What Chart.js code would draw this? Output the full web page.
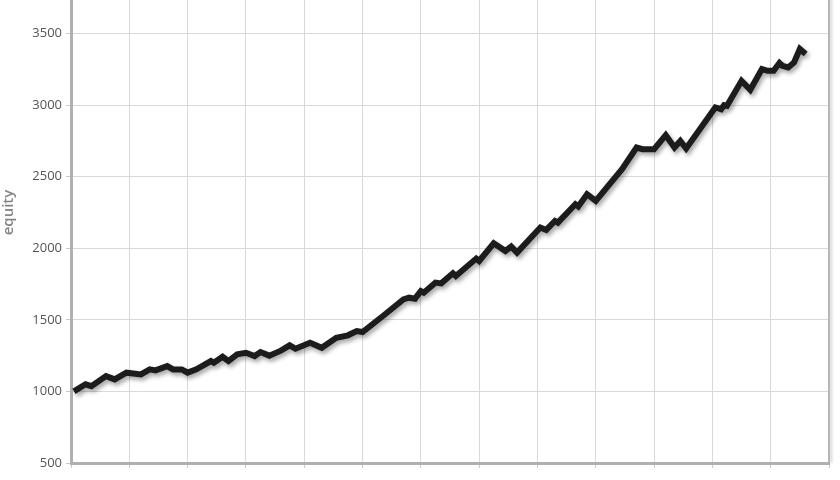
<!DOCTYPE html>
<html>
<head>
<meta charset="utf-8">
<script src="https://cdn.jsdelivr.net/npm/chart.js@4/dist/chart.umd.min.js"></script>
<style>
  html, body { margin: 0; padding: 0; background: #fff; overflow: hidden; }
  /* the top of the plot is cut off in the picture */
  #wrap { width: 840px; height: 518px; margin-top: -38px; }
</style>
</head>
<body>
<div id="wrap"><canvas id="equity-chart"></canvas></div>
<script>
// Equity curve (trade number, equity)
const trades = [1, 5, 7, 12, 15, 19, 24, 27, 29, 33, 35, 38, 40, 43, 48, 49, 52, 54, 57, 60,
  63, 65, 68, 72, 75, 77, 82, 86, 91, 95, 98, 100, 107, 114, 116, 118, 120, 121, 125, 127,
  131, 132, 139, 140, 145, 149, 151, 153, 161, 163, 166, 167, 173, 174, 177, 180, 189, 194, 196, 200,
  204, 207, 209, 211, 221, 223, 224, 225, 230, 233, 237, 239, 241, 243, 244, 246, 248, 250, 252];
const equity = [1000, 1050, 1037, 1107, 1084, 1131, 1119, 1154, 1147, 1177, 1154, 1154, 1131, 1154, 1212, 1200, 1242, 1212, 1259, 1270,
  1247, 1275, 1250, 1285, 1322, 1298, 1340, 1305, 1375, 1392, 1422, 1415, 1527, 1643, 1655, 1648, 1701, 1690, 1760, 1755,
  1825, 1806, 1928, 1911, 2035, 1981, 2012, 1970, 2145, 2128, 2191, 2179, 2308, 2292, 2378, 2331, 2552, 2704, 2692, 2692,
  2790, 2704, 2750, 2697, 2984, 2972, 3000, 2995, 3170, 3107, 3252, 3240, 3240, 3294, 3275, 3263, 3298, 3392, 3357];

const yTicks = [500, 1000, 1500, 2000, 2500, 3000, 3500, 4000];
const yLabel = 'equity';

const points = trades.map((t, i) => ({ x: t, y: equity[i] }));

// sombra de la linea
const lineShadow = {
    id: 'lineShadow',
    beforeDatasetDraw(chart) {
        const ctx = chart.ctx;
        ctx.save();
        ctx.shadowColor = 'rgba(0, 0, 0, 0.35)';
        ctx.shadowBlur = 4;
        ctx.shadowOffsetX = 2;
        ctx.shadowOffsetY = 3;
    },
    afterDatasetDraw(chart) {
        chart.ctx.restore();
    }
};

// borde derecho del area
const rightBorder = {
    id: 'rightBorder',
    afterDraw(chart) {
        const ctx = chart.ctx;
        const area = chart.chartArea;
        ctx.save();
        ctx.shadowColor = 'rgba(0, 0, 0, 0.2)';
        ctx.shadowBlur = 3;
        ctx.shadowOffsetX = 2;
        ctx.strokeStyle = '#b5b5b5';
        ctx.lineWidth = 2;
        ctx.beginPath();
        ctx.moveTo(area.right, area.top);
        ctx.lineTo(area.right, area.bottom);
        ctx.stroke();
        ctx.restore();
    }
};

new Chart(document.getElementById('equity-chart'), {
    type: 'line',
    data: {
        datasets: [{
            label: yLabel,
            data: points,
            borderColor: '#1c1c1c',
            borderWidth: 6,
            pointRadius: 0,
            tension: 0,
            borderJoinStyle: 'miter',
            fill: false
        }]
    },
    options: {
        responsive: true,
        maintainAspectRatio: false,
        animation: false,
        layout: { padding: { top: 0, right: 11, bottom: 0, left: 0 } },
        plugins: {
            legend: { display: false },
            tooltip: { enabled: false }
        },
        scales: {
            x: {
                type: 'linear',
                min: 0,
                max: 260,
                ticks: { stepSize: 20, callback: () => '', padding: 0 },
                grid: { color: '#d9d9d9', lineWidth: 1, tickLength: 5, tickColor: '#c8c8c8' },
                border: { color: '#b0b0b0', width: 3 },
                afterFit(scale) { scale.height = 17; }
            },
            y: {
                min: 500,
                max: 4000,
                afterBuildTicks(scale) {
                    scale.ticks = yTicks.map(v => ({ value: v }));
                },
                ticks: {
                    color: '#555',
                    padding: 4,
                    font: { family: 'Open Sans', size: 13 },
                    callback: v => String(v)
                },
                grid: { color: '#d9d9d9', lineWidth: 1, tickLength: 5, tickColor: '#c8c8c8' },
                border: { color: '#b0b0b0', width: 3 },
                title: {
                    display: true,
                    text: yLabel,
                    color: '#858585',
                    padding: 0,
                    font: { family: 'Open Sans', size: 15, weight: '600' }
                },
                afterFit(scale) {
                    scale.width = 71;
                    scale.paddingTop = 0;
                }
            }
        }
    },
    plugins: [lineShadow, rightBorder]
});
</script>
</body>
</html>
